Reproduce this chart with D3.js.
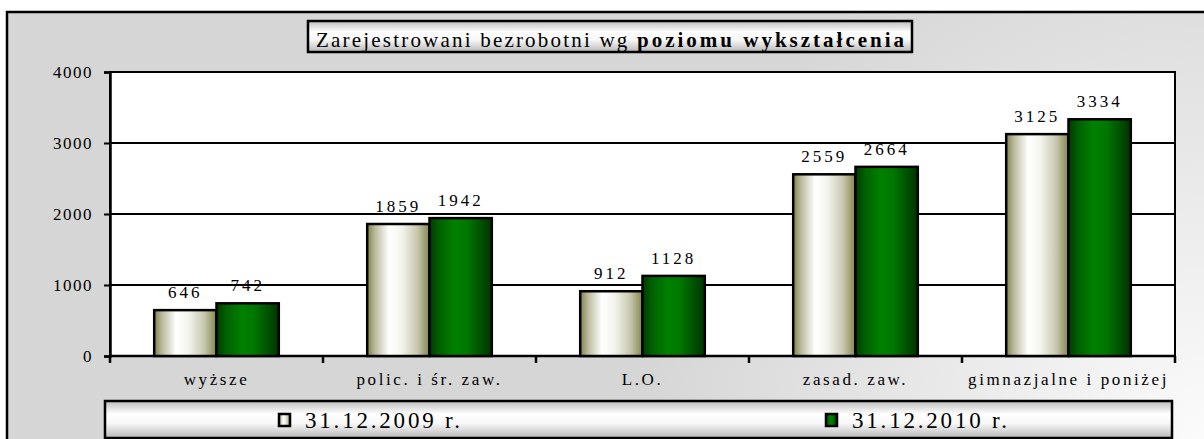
<!DOCTYPE html>
<html>
<head>
<meta charset="utf-8">
<script src="https://cdn.jsdelivr.net/npm/d3@7"></script>
<style>
  body { margin: 0; background: #fff; }
  text { font-family: "Liberation Serif", "Times New Roman", serif; fill: #000; }
</style>
</head>
<body>
<div id="chart"></div>
<script>
// dane
var categories = ["wyższe", "polic. i śr. zaw.", "L.O.", "zasad. zaw.", "gimnazjalne i poniżej"];
var series_names = ["31.12.2009 r.", "31.12.2010 r."];
var values_2009 = [646, 1859, 912, 2559, 3125];
var values_2010 = [742, 1942, 1128, 2664, 3334];
var y_ticks = [0, 1000, 2000, 3000, 4000];

var width = 1204, height = 439;

var svg = d3.select("#chart").append("svg")
  .attr("width", width)
  .attr("height", height);

var defs = svg.append("defs");

// tlo ramki
var bg = defs.append("radialGradient")
  .attr("id", "bg_grad")
  .attr("gradientUnits", "userSpaceOnUse")
  .attr("cx", 1204).attr("cy", 439).attr("r", 560);
bg.append("stop").attr("offset", "0%").attr("stop-color", "#fbfbfb");
bg.append("stop").attr("offset", "55%").attr("stop-color", "#e6e6e6");
bg.append("stop").attr("offset", "100%").attr("stop-color", "#d6d6d6");

// gradient pudelek (tytul, legenda)
function box_gradient(id) {
  var g = defs.append("linearGradient").attr("id", id)
    .attr("x1", 0).attr("y1", 0).attr("x2", 0).attr("y2", 1);
  g.append("stop").attr("offset", "0%").attr("stop-color", "#bdbdbd");
  g.append("stop").attr("offset", "35%").attr("stop-color", "#ffffff");
  g.append("stop").attr("offset", "60%").attr("stop-color", "#f8f8f8");
  g.append("stop").attr("offset", "100%").attr("stop-color", "#b8b8b8");
}
box_gradient("title_grad");
box_gradient("legend_grad");

// gradienty slupkow
var g1 = defs.append("linearGradient").attr("id", "bar1")
  .attr("x1", 0).attr("y1", 0).attr("x2", 1).attr("y2", 0);
g1.append("stop").attr("offset", "0%").attr("stop-color", "#808048");
g1.append("stop").attr("offset", "12%").attr("stop-color", "#b8b89a");
g1.append("stop").attr("offset", "35%").attr("stop-color", "#ffffff");
g1.append("stop").attr("offset", "55%").attr("stop-color", "#f4f4ee");
g1.append("stop").attr("offset", "80%").attr("stop-color", "#c8c8b0");
g1.append("stop").attr("offset", "100%").attr("stop-color", "#85854c");

var g2 = defs.append("linearGradient").attr("id", "bar2")
  .attr("x1", 0).attr("y1", 0).attr("x2", 1).attr("y2", 0);
g2.append("stop").attr("offset", "0%").attr("stop-color", "#003a00");
g2.append("stop").attr("offset", "15%").attr("stop-color", "#006000");
g2.append("stop").attr("offset", "40%").attr("stop-color", "#008000");
g2.append("stop").attr("offset", "60%").attr("stop-color", "#007800");
g2.append("stop").attr("offset", "100%").attr("stop-color", "#003300");

var fills = ["url(#bar1)", "url(#bar2)"];

// ramka zewnetrzna
svg.append("rect")
  .attr("x", 7).attr("y", 12)
  .attr("width", 1220).attr("height", 450)
  .attr("fill", "url(#bg_grad)")
  .attr("stroke", "#000")
  .attr("stroke-width", 2.5);

// obszar wykresu
var plot = { left: 110, right: 1175, top: 72, bottom: 356 };

var x = d3.scaleBand()
  .domain(categories)
  .range([plot.left, plot.right])
  .padding(0);

var group_w = x.bandwidth() * 0.585;
var xs = d3.scaleBand()
  .domain([0, 1])
  .range([-group_w / 2, group_w / 2])
  .padding(0);

var y = d3.scaleLinear()
  .domain([0, 4000])
  .range([plot.bottom, plot.top]);

svg.append("rect")
  .attr("x", plot.left).attr("y", plot.top)
  .attr("width", plot.right - plot.left)
  .attr("height", plot.bottom - plot.top)
  .attr("fill", "#fff");

// linie siatki
svg.append("g")
  .selectAll("line")
  .data(y_ticks.slice(1, -1))
  .enter().append("line")
  .attr("x1", plot.left).attr("x2", plot.right)
  .attr("y1", function(d) { return y(d); })
  .attr("y2", function(d) { return y(d); })
  .attr("stroke", "#000")
  .attr("stroke-width", 1.8);

svg.append("rect")
  .attr("x", plot.left).attr("y", plot.top)
  .attr("width", plot.right - plot.left)
  .attr("height", plot.bottom - plot.top)
  .attr("fill", "none")
  .attr("stroke", "#000")
  .attr("stroke-width", 2);

// os Y
var yAxis = d3.axisLeft(y)
  .tickValues(y_ticks)
  .tickFormat(d3.format("d"))
  .tickSize(6)
  .tickPadding(11);

var gy = svg.append("g")
  .attr("transform", "translate(" + plot.left + ",0)")
  .call(yAxis);
gy.select(".domain").attr("stroke-width", 2.5);
gy.selectAll(".tick line").attr("stroke-width", 2);
gy.selectAll(".tick text")
  .style("font-family", "Liberation Serif")
  .style("font-size", "17px")
  .style("letter-spacing", "1.5px");

// os X - znaczniki na granicach kategorii
var bounds = categories.map(function(c) { return x(c); }).concat([plot.right]);
svg.append("g")
  .selectAll("line")
  .data(bounds)
  .enter().append("line")
  .attr("x1", function(d) { return d; })
  .attr("x2", function(d) { return d; })
  .attr("y1", plot.bottom)
  .attr("y2", plot.bottom + 7)
  .attr("stroke", "#000")
  .attr("stroke-width", 2.5);

svg.append("line")
  .attr("x1", plot.left - 1).attr("x2", plot.right + 1)
  .attr("y1", plot.bottom).attr("y2", plot.bottom)
  .attr("stroke", "#000")
  .attr("stroke-width", 2.5);

svg.append("g")
  .selectAll("text")
  .data(categories)
  .enter().append("text")
  .attr("x", function(d) { return x(d) + x.bandwidth() / 2; })
  .attr("y", 385)
  .attr("text-anchor", "middle")
  .style("font-size", "17px")
  .style("letter-spacing", "2.6px")
  .text(function(d) { return d; });

// slupki
var all_series = [values_2009, values_2010];
all_series.forEach(function(vals, si) {
  var gs = svg.append("g");
  gs.selectAll("rect")
    .data(vals)
    .enter().append("rect")
    .attr("x", function(d, i) { return x(categories[i]) + x.bandwidth() / 2 + xs(si); })
    .attr("y", function(d) { return y(d); })
    .attr("width", xs.bandwidth())
    .attr("height", function(d) { return y(0) - y(d); })
    .attr("fill", fills[si])
    .attr("stroke", "#000")
    .attr("stroke-width", 2.5);

  gs.selectAll("text")
    .data(vals)
    .enter().append("text")
    .attr("x", function(d, i) { return x(categories[i]) + x.bandwidth() / 2 + xs(si) + xs.bandwidth() / 2; })
    .attr("y", function(d) { return y(d) - 12; })
    .attr("text-anchor", "middle")
    .style("font-size", "17px")
    .style("letter-spacing", "3px")
    .text(function(d) { return d; });
});

// tytul
svg.append("rect")
  .attr("x", 308).attr("y", 21)
  .attr("width", 604).attr("height", 31)
  .attr("fill", "url(#title_grad)")
  .attr("stroke", "#000")
  .attr("stroke-width", 2.5);

var title = svg.append("text")
  .attr("x", 316).attr("y", 47)
  .style("font-size", "21px");
title.append("tspan")
  .style("letter-spacing", "2.2px")
  .text("Zarejestrowani bezrobotni wg ");
title.append("tspan")
  .style("font-weight", "bold")
  .style("letter-spacing", "3px")
  .text("poziomu wykształcenia");

// legenda
svg.append("rect")
  .attr("x", 105).attr("y", 401)
  .attr("width", 1067).attr("height", 37)
  .attr("fill", "url(#legend_grad)")
  .attr("stroke", "#000")
  .attr("stroke-width", 2.5);

var legend_x = [279, 826];
var legend = svg.append("g")
  .selectAll("g")
  .data(series_names)
  .enter().append("g")
  .attr("transform", function(d, i) { return "translate(" + legend_x[i] + ",420)"; });

legend.append("rect")
  .attr("x", 0).attr("y", -6)
  .attr("width", 11).attr("height", 12)
  .attr("fill", function(d, i) { return fills[i]; })
  .attr("stroke", "#000")
  .attr("stroke-width", 2.5);

legend.append("text")
  .attr("x", 26).attr("y", 8)
  .style("font-size", "23px")
  .style("letter-spacing", "2.8px")
  .text(function(d) { return d; });
</script>
</body>
</html>
